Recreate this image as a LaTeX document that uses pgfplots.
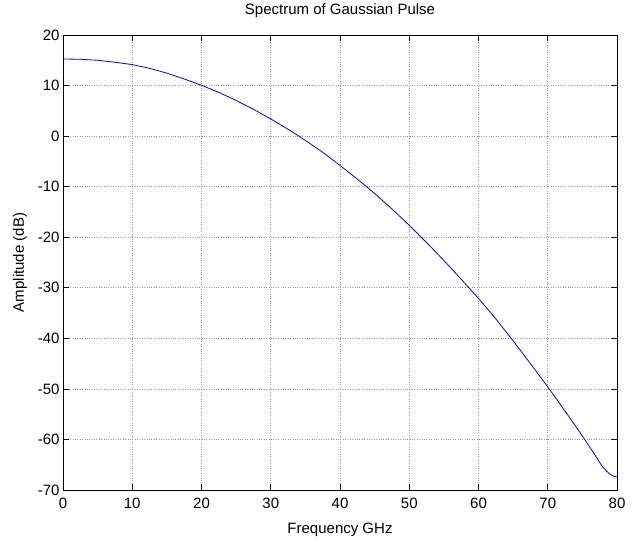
\documentclass[border=0pt]{standalone}
\usepackage{fontspec}
\setmainfont{Liberation Sans}
\usepackage{pgfplots}
\pgfplotsset{compat=1.18}
\begin{document}
\begin{tikzpicture}[x=1bp,y=1bp,font=\fontsize{15bp}{18bp}\selectfont]
\useasboundingbox (0,0) rectangle (635,542);
\begin{axis}[
 at={(63bp,52bp)}, anchor=south west,
 width=554bp, height=455bp, scale only axis,
 xmin=0, xmax=80, ymin=-70, ymax=20,
 xtick={0,10,...,80}, ytick={-70,-60,...,20},
 grid=major, grid style={dotted, gray!75, line width=0.6bp},
 axis line style={black, line width=0.8bp},
 tick align=inside, major tick length=6bp, tick style={black, line width=0.6bp},
 /pgf/number format/assume math mode=true,
 xticklabel style={yshift=-5bp},
 title={Spectrum of Gaussian Pulse},
 title style={at={(axis description cs:0.5,1.0308)}, anchor=base},
 xlabel={Frequency GHz},
 xlabel style={at={(axis description cs:0.5,-0.0967)}, anchor=base},
 ylabel={Amplitude (dB)},
 ylabel style={at={(axis description cs:-0.0707,0.5)}, anchor=base, rotate=0},
]
\addplot[color={rgb,255:red,0;green,0;blue,255}, line width=0.8bp, mark=none] coordinates {
(0,15.25) (2.5,15.2) (5,15.0) (7.5,14.6) (10,14.15) (12.5,13.4) (15,12.45)
(17.5,11.3) (20,10.05) (22.5,8.65) (25,7.05) (27.5,5.3) (30,3.4) (32.5,1.35)
(35,-0.85) (37.5,-3.2) (40,-5.8) (42.5,-8.5) (45,-11.35) (47.5,-14.4)
(50,-17.65) (52.5,-21.05) (55,-24.6) (57.5,-28.3) (60,-32.1) (62.5,-36.15)
(65,-40.5) (67.5,-45.0) (70,-49.6) (72.5,-54.4) (75,-59.3) (76.5,-62.4)
(77.9,-65.4) (78.6,-66.4) (79.1,-67.0) (79.6,-67.3) (80,-67.4)
};
\end{axis}
\end{tikzpicture}
\end{document}
